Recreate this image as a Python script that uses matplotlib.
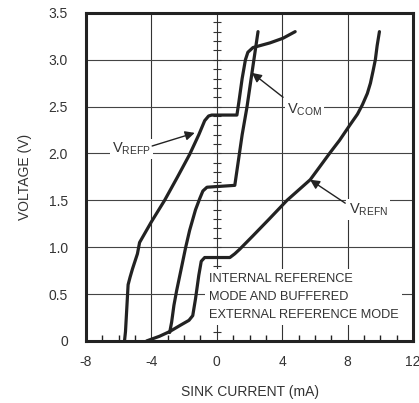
import numpy as np
import matplotlib
matplotlib.use("Agg")
from matplotlib import pyplot as plt

# Sink current (mA) vs voltage (V)
refp_x = [-5.64, -5.58, -5.50, -5.42, -5.30, -5.15, -5.00, -4.85, -4.72, -4.00, -3.19, -2.40,
          -1.66, -1.10, -0.74, -0.50, -0.31, 1.23, 1.35, 1.55, 1.75, 1.90, 2.21, 3.25, 4.05, 4.79]
refp_y = [0.00, 0.10, 0.35, 0.60, 0.68, 0.77, 0.85, 0.93, 1.05, 1.27, 1.50, 1.75,
          1.99, 2.20, 2.35, 2.40, 2.41, 2.41, 2.55, 2.80, 3.00, 3.08, 3.13, 3.18, 3.23, 3.30]

vcom_x = [-2.88, -2.76, -2.62, -2.45, -2.15, -1.90, -1.66, -1.30, -1.04, -0.85, -0.60,
          1.10, 1.30, 1.55, 1.84, 2.15, 2.52]
vcom_y = [0.09, 0.20, 0.38, 0.54, 0.79, 1.00, 1.18, 1.40, 1.52, 1.60, 1.64,
          1.66, 1.90, 2.20, 2.49, 2.86, 3.30]

refn_x = [-4.29, -3.50, -2.88, -2.20, -1.70, -1.47, -1.30, -1.10, -0.95, -0.74, 0.80, 1.10,
          1.41, 2.20, 3.20, 4.29, 5.00, 5.71, 6.30, 6.93, 7.50, 8.16, 8.60, 8.90, 9.20,
          9.39, 9.55, 9.69, 9.80, 9.94]
refn_y = [0.00, 0.05, 0.10, 0.17, 0.22, 0.27, 0.45, 0.70, 0.85, 0.89, 0.89, 0.93,
          0.98, 1.12, 1.30, 1.50, 1.61, 1.72, 1.86, 2.01, 2.14, 2.31, 2.42, 2.52, 2.64,
          2.75, 2.88, 3.00, 3.15, 3.30]

x_ticks = [-8, -4, 0, 4, 8, 12]
y_ticks = [0, 0.5, 1.0, 1.5, 2.0, 2.5, 3.0, 3.5]
y_labels = ["0", "0.5", "1.0", "1.5", "2.0", "2.5", "3.0", "3.5"]

plt.rcParams["font.family"] = ["Liberation Sans", "DejaVu Sans"]
plt.rcParams["mathtext.fontset"] = "custom"
plt.rcParams["mathtext.rm"] = "Liberation Sans"
plt.rcParams["mathtext.it"] = "Liberation Sans"

ink = "#222222"
text_c = "#333333"

fig = plt.figure(figsize=(4.19, 4.03), dpi=100)
ax = fig.add_axes([0.205, 0.154, 0.781, 0.814])
ax.set_xlim(-8, 12)
ax.set_ylim(0, 3.5)

# grid
for gx in x_ticks[1:-1]:
    ax.axvline(gx, color="#333333", lw=0.8, zorder=1)
for gy in y_ticks[1:-1]:
    ax.axhline(gy, color="#444444", lw=0.8, zorder=1)

# small ticks along the x = 0 line
cy = np.arange(1, 35) / 10
ax.plot(np.zeros_like(cy), cy, ls="none", marker="_", ms=6, mew=0.8, color="#333333", zorder=1)

for s in ax.spines.values():
    s.set_linewidth(2.2)
    s.set_color(ink)

ax.set_xticks(x_ticks)
ax.set_xticklabels([str(v) for v in x_ticks])
ax.set_yticks(y_ticks)
ax.set_yticklabels(y_labels)
ax.set_xticks(np.arange(-7, 12, 1), minor=True)
ax.tick_params(axis="both", which="major", length=0, labelsize=10, colors=text_c)
ax.tick_params(axis="x", which="major", pad=10)
ax.tick_params(axis="y", which="major", pad=13)
ax.tick_params(axis="x", which="minor", direction="in", length=4, width=1, color=ink)

for xs, ys in [(refp_x, refp_y), (vcom_x, vcom_y), (refn_x, refn_y)]:
    ax.plot(xs, ys, color=ink, lw=2.3, solid_joinstyle="round", solid_capstyle="round", zorder=3)

box = dict(facecolor="white", edgecolor="none", pad=1.5)
arrow = dict(arrowstyle="-|>", color=ink, lw=1.0, mutation_scale=14, shrinkA=0, shrinkB=0)

ax.text(-6.4, 2.05, r"V$_{\mathrm{REFP}}$", fontsize=10.5, color=text_c, ha="left", va="center", bbox=box, zorder=4)
ax.annotate("", xy=(-1.35, 2.22), xytext=(-3.95, 2.08), arrowprops=arrow, zorder=4)

ax.text(4.3, 2.47, r"V$_{\mathrm{COM}}$", fontsize=10.5, color=text_c, ha="left", va="center", bbox=box, zorder=4)
ax.annotate("", xy=(2.15, 2.86), xytext=(4.05, 2.6), arrowprops=arrow, zorder=4)

ax.text(8.05, 1.4, r"V$_{\mathrm{REFN}}$", fontsize=10.5, color=text_c, ha="left", va="center", bbox=box, zorder=4)
ax.annotate("", xy=(5.7, 1.72), xytext=(7.85, 1.47), arrowprops=arrow, zorder=4)

ax.text(-0.5, 0.47, "INTERNAL REFERENCE\nMODE AND BUFFERED\nEXTERNAL REFERENCE MODE",
        fontsize=9.2, color=text_c, ha="left", va="center", linespacing=1.7,
        bbox=dict(facecolor="white", edgecolor="none", pad=2.5), zorder=4)

ax.set_xlabel("SINK CURRENT (mA)", fontsize=10, color=text_c, labelpad=12)
ax.set_ylabel("VOLTAGE (V)", fontsize=10, color=text_c, labelpad=12)

fig.savefig("out.png", dpi=100)
